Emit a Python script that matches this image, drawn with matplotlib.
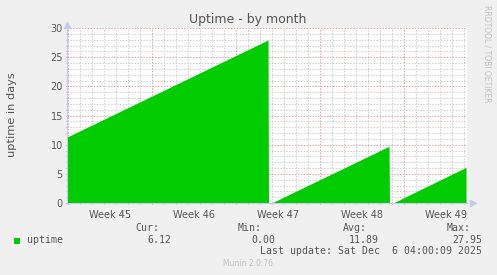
import numpy as np
import matplotlib
matplotlib.use("Agg")
from matplotlib import pyplot as plt
from matplotlib.ticker import MultipleLocator, FixedLocator, NullFormatter

# time in days, 0 = start of week 46 (Mon)
days = [-7.06, 9.69, 9.73, 9.98, 19.77, 19.81, 20.11, 26.19]
uptime = [11.3, 27.95, 0.0, 0.0, 9.72, 0.0, 0.0, 6.12]

week_edges = [-7, 0, 7, 14, 21]
week_centers = [-3.5, 3.5, 10.5, 17.5, 24.5]
week_labels = ['Week 45', 'Week 46', 'Week 47', 'Week 48', 'Week 49']

XLIM = (-7.06, 26.27)
YLIM = (0, 30)

stats_head = ['Cur:', 'Min:', 'Avg:', 'Max:']
stats_vals = ['6.12', '0.00', '11.89', '27.95']

BG = '#F0F0F0'
GREEN = '#00CC00'
TXT = '#555555'
MONO = 'DejaVu Sans Mono'

W, H = 497, 275
fig = plt.figure(figsize=(W / 100, H / 100), dpi=100, facecolor=BG)
ax = fig.add_axes([67 / W, (H - 203) / H, 400 / W, 175 / H])
ax.set_facecolor('white')

ax.fill_between(days, uptime, 0, color=GREEN, linewidth=0, zorder=2)

ax.set_xlim(*XLIM)
ax.set_ylim(*YLIM)

# grid: days / weeks, units / fives
ax.xaxis.set_major_locator(FixedLocator(week_edges))
ax.xaxis.set_minor_locator(MultipleLocator(1))
ax.xaxis.set_major_formatter(NullFormatter())
ax.yaxis.set_major_locator(MultipleLocator(5))
ax.yaxis.set_minor_locator(MultipleLocator(1))

ax.set_axisbelow(True)
ax.grid(which='minor', color='#CFCFCF', linestyle=(0, (1.5, 1.5)), linewidth=0.7, zorder=1)
ax.grid(which='major', color='#E6A0A0', linestyle=(0, (1.5, 1.5)), linewidth=0.7, zorder=1)

ax.tick_params(which='major', color='#D08080', length=2, width=0.8, direction='inout', labelsize=7, labelcolor=TXT, pad=2)
ax.tick_params(which='minor', color='#AAAAAA', length=2, width=0.6, direction='inout')

for x, lab in zip(week_centers, week_labels):
    ax.text(x, -0.04, lab, transform=ax.get_xaxis_transform(), ha='center', va='top', fontsize=7, color=TXT)

for s in ['top', 'right']:
    ax.spines[s].set_visible(False)
ax.spines['left'].set_color('#C8C8F0')
ax.spines['bottom'].set_color('#C8C8F0')
ax.spines['left'].set_zorder(4)
ax.spines['bottom'].set_zorder(4)

# axis arrows
ax.plot([0], [1.02], marker='^', ms=4, color='#C8C8F0', transform=ax.transAxes, clip_on=False)
ax.plot([1.015], [0], marker='>', ms=4, color='#C8C8F0', transform=ax.transAxes, clip_on=False)

fig.text(248 / W, 1 - 20 / H, 'Uptime - by month', ha='center', va='center', fontsize=9, color=TXT)
fig.text(12 / W, 1 - 115 / H, 'uptime in days', ha='center', va='center', rotation=90, fontsize=8.2, color=TXT)
fig.text(487 / W, 1 - 5 / H, 'RRDTOOL / TOBI OETIKER', ha='center', va='top', rotation=270,
         fontsize=5.5, color='#C0C0C0')

# legend block
fig.patches.append(plt.Rectangle((14 / W, 1 - 244 / H), 6 / W, 6 / H, transform=fig.transFigure,
                                 facecolor=GREEN, edgecolor='none'))
fig.text(27 / W, 1 - 240 / H, 'uptime', ha='left', va='center', fontsize=7.1, family=MONO, color=TXT)
head_x = [159, 262, 367, 471]
val_x = [171, 275, 379, 482]
for hx, vx, h, v in zip(head_x, val_x, stats_head, stats_vals):
    fig.text(hx / W, 1 - 228 / H, h, ha='right', va='center', fontsize=7.1, family=MONO, color=TXT)
    fig.text(vx / W, 1 - 240 / H, v, ha='right', va='center', fontsize=7.1, family=MONO, color=TXT)
fig.text(482 / W, 1 - 251 / H, 'Last update: Sat Dec  6 04:00:09 2025', ha='right', va='center',
         fontsize=7.1, family=MONO, color=TXT)
fig.text(248 / W, 1 - 264 / H, 'Munin 2.0.76', ha='center', va='center', fontsize=5.5, color='#C0C0C0')

fig.savefig('out.png', dpi=100, facecolor=BG)
